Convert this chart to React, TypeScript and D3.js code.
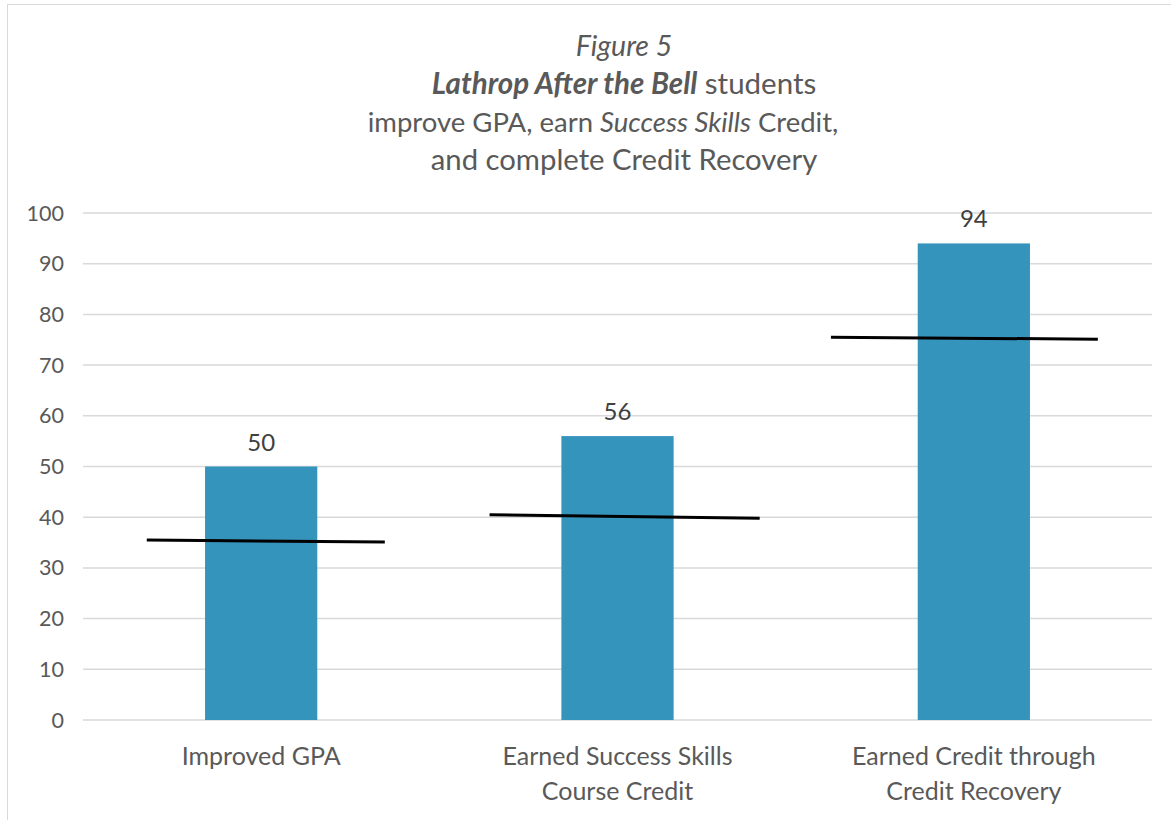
import React, { useEffect, useRef } from "react"
import * as d3 from "d3"

const categories = [
	["Improved GPA"],
	["Earned Success Skills", "Course Credit"],
	["Earned Credit through", "Credit Recovery"],
]
const barValues = [50, 56, 94]
// comparison lines: values at the left and right ends
const lineStart = [35.5, 40.5, 75.5]
const lineEnd = [35.1, 39.8, 75.1]
// where each line starts / stops, in category steps from the category centre
const lineFrom = [-0.321, -0.359, -0.401]
const lineTo = [0.347, 0.399, 0.348]
const yTicks = [0, 10, 20, 30, 40, 50, 60, 70, 80, 90, 100]

const W = 1171
const H = 820
const FONT = "Lato, 'Open Sans', sans-serif"

const App: React.FC = () => {
	const ref = useRef<SVGSVGElement>(null)

	useEffect(() => {
		const svg = d3.select(ref.current)
		svg.selectAll("*").remove()

		const margin = { top: 213, right: 19, bottom: 100, left: 83 }
		const innerW = W - margin.left - margin.right
		const innerH = H - margin.top - margin.bottom

		// chart border
		svg.append("rect")
			.attr("x", 7.5)
			.attr("y", 4.5)
			.attr("width", W + 10)
			.attr("height", H + 10)
			.attr("fill", "#fff")
			.attr("stroke", "#d9d9d9")

		const title = svg.append("text")
			.attr("text-anchor", "middle")
			.attr("font-family", FONT)
			.attr("font-size", 27.5)
			.attr("fill", "#595959")
		title.append("tspan").attr("x", 624).attr("y", 56).attr("font-style", "italic").attr("font-size", 28.5).text("Figure 5")
		const l2 = title.append("tspan").attr("x", 624).attr("y", 94).attr("font-size", 29.5)
		l2.append("tspan").attr("font-weight", "bold").attr("font-style", "italic").text("Lathrop After the Bell")
		l2.append("tspan").text(" students")
		const l3 = title.append("tspan").attr("x", 603).attr("y", 132)
		l3.append("tspan").text("improve GPA, earn ")
		l3.append("tspan").attr("font-style", "italic").text("Success Skills")
		l3.append("tspan").text(" Credit,")
		title.append("tspan").attr("x", 624).attr("y", 170).attr("font-size", 29.3).text("and complete Credit Recovery")

		const g = svg.append("g").attr("transform", `translate(${margin.left},${margin.top})`)

		const x = d3.scaleBand<number>()
			.domain(d3.range(categories.length))
			.range([0, innerW])
			.paddingInner(0.685)
			.paddingOuter(0.3425)
		const y = d3.scaleLinear().domain([0, 100]).range([innerH, 0])
		const cx = (i: number) => x(i)! + x.bandwidth() / 2

		g.append("g")
			.selectAll("line")
			.data(yTicks)
			.join("line")
			.attr("x1", 0)
			.attr("x2", innerW)
			.attr("y1", (d) => y(d))
			.attr("y2", (d) => y(d))
			.attr("stroke", "#d9d9d9")
			.attr("stroke-width", 1.5)

		g.append("g")
			.selectAll("text")
			.data(yTicks)
			.join("text")
			.attr("x", -19)
			.attr("y", (d) => y(d))
			.attr("dy", "0.35em")
			.attr("text-anchor", "end")
			.attr("font-family", FONT)
			.attr("font-size", 21.5)
			.attr("fill", "#595959")
			.text((d) => d)

		g.append("g")
			.selectAll("rect")
			.data(barValues)
			.join("rect")
			.attr("x", (_, i) => x(i)!)
			.attr("width", x.bandwidth())
			.attr("y", (d) => y(d))
			.attr("height", (d) => innerH - y(d))
			.attr("fill", "#3594bb")

		g.append("g")
			.selectAll("text")
			.data(barValues)
			.join("text")
			.attr("x", (_, i) => cx(i))
			.attr("y", (d) => y(d) - 16)
			.attr("text-anchor", "middle")
			.attr("font-family", FONT)
			.attr("font-size", 24)
			.attr("fill", "#404040")
			.text((d) => d)

		const step = x.step()
		g.append("g")
			.selectAll("line")
			.data(lineStart)
			.join("line")
			.attr("x1", (_, i) => cx(i) + lineFrom[i] * step)
			.attr("x2", (_, i) => cx(i) + lineTo[i] * step)
			.attr("y1", (d) => y(d))
			.attr("y2", (_, i) => y(lineEnd[i]))
			.attr("stroke", "#000")
			.attr("stroke-width", 3)

		const cat = g.append("g")
			.selectAll("text")
			.data(categories)
			.join("text")
			.attr("text-anchor", "middle")
			.attr("font-family", FONT)
			.attr("font-size", 25)
			.attr("fill", "#595959")
		cat.selectAll("tspan")
			.data((d, i) => d.map((t) => ({ t, i })))
			.join("tspan")
			.attr("x", (d) => cx(d.i))
			.attr("y", (_, j) => innerH + 45 + j * 35)
			.text((d) => d.t)
	}, [])

	return (
		<svg ref={ref} width={W} height={H} style={{ position: "absolute", left: 0, top: 0 }} />
	)
}

export default App
